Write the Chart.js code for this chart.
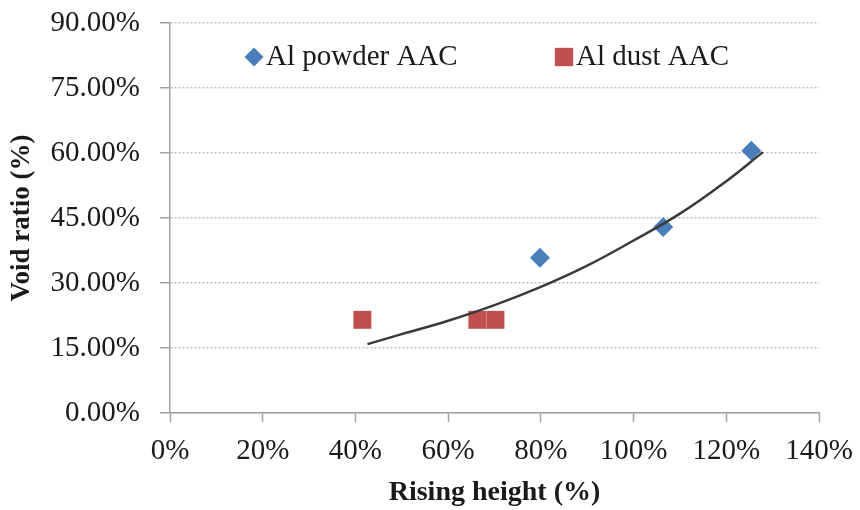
<!DOCTYPE html>
<html>
<head>
<meta charset="utf-8">
<script src="https://cdn.jsdelivr.net/npm/chart.js@4"></script>
<style>
  html, body { margin: 0; padding: 0; background: #fff; }
</style>
</head>
<body>
<canvas id="voidChart" width="860" height="510"></canvas>
<script>
// values (percent)
const powderRise = [79.8, 106.4, 125.4];
const powderVoid = [35.8, 42.9, 60.5];
const dustRise = [41.5, 66.3, 70.2];
const dustVoid = [21.5, 21.5, 21.5];
// trend line as drawn in the figure
const trendRise = [42.6, 50, 60, 70, 80, 90, 100, 110, 120, 127.9];
const trendVoid = [15.9, 18.2, 21.3, 24.9, 29.1, 34.0, 39.8, 46.0, 53.5, 60.2];
const xTicks = [0, 20, 40, 60, 80, 100, 120, 140];
const yTicks = [0, 15, 30, 45, 60, 75, 90];

const serif = 'Liberation Serif';
const pts = (xs, ys) => xs.map((x, i) => ({ x: x, y: ys[i] }));

// legend sits inside the plot, so draw it ourselves
const innerLegend = {
  id: 'innerLegend',
  afterDraw(chart) {
    const c = chart.ctx;
    const items = [
      { ds: chart.data.datasets[0], x: 254, r: 9.5 },
      { ds: chart.data.datasets[1], x: 564, r: 13 }
    ];
    c.save();
    c.font = '29px "' + serif + '"';
    c.textBaseline = 'middle';
    items.forEach(it => {
      c.fillStyle = it.ds.backgroundColor;
      Chart.helpers.drawPoint(c, { pointStyle: it.ds.pointStyle, radius: it.r, rotation: 0, borderWidth: 0 }, it.x, 57);
      c.fillStyle = '#1a1a1a';
      c.fillText(it.ds.label, it.x + 12, 57);
    });
    c.restore();
  }
};

new Chart(document.getElementById('voidChart'), {
  type: 'scatter',
  data: {
    datasets: [
      {
        label: 'Al powder AAC',
        data: pts(powderRise, powderVoid),
        pointStyle: 'rectRot',
        pointRadius: 10,
        backgroundColor: '#4a7ebb',
        borderWidth: 0
      },
      {
        label: 'Al dust AAC',
        data: pts(dustRise, dustVoid),
        pointStyle: 'rect',
        pointRadius: 12.7,
        backgroundColor: '#c0504d',
        borderWidth: 0
      },
      {
        label: 'trend',
        data: pts(trendRise, trendVoid),
        showLine: true,
        pointRadius: 0,
        borderColor: '#3a3a3a',
        borderWidth: 2.5,
        tension: 0.4,
        order: -1
      }
    ]
  },
  options: {
    responsive: false,
    animation: false,
    layout: { padding: { top: 23, right: 41, bottom: 0, left: 0 } },
    plugins: {
      legend: { display: false },
      tooltip: { enabled: false }
    },
    scales: {
      x: {
        type: 'linear',
        min: 0,
        max: 140,
        afterFit: s => { s.height = 97; s.paddingLeft = 0; s.paddingRight = 0; },
        afterBuildTicks: s => { s.ticks = xTicks.map(v => ({ value: v })); },
        ticks: {
          color: '#1a1a1a',
          padding: 12,
          font: { family: serif, size: 29 },
          callback: v => v + '%'
        },
        grid: {
          drawOnChartArea: false,
          tickLength: 9,
          tickColor: '#a0a0a0',
          tickWidth: 1.5
        },
        border: { color: '#a0a0a0', width: 1.5 },
        title: {
          display: true,
          text: 'Rising height (%)',
          color: '#1a1a1a',
          padding: 0,
          font: { family: serif, size: 28, weight: 'bold' }
        }
      },
      y: {
        type: 'linear',
        min: 0,
        max: 90,
        afterFit: s => { s.width = 170; s.paddingTop = 0; s.paddingBottom = 0; },
        afterBuildTicks: s => { s.ticks = yTicks.map(v => ({ value: v })); },
        ticks: {
          color: '#1a1a1a',
          padding: 20,
          font: { family: serif, size: 29 },
          callback: v => v.toFixed(2) + '%'
        },
        grid: {
          color: '#bdbdbd',
          lineWidth: 1.5,
          tickLength: 10,
          tickColor: '#a0a0a0',
          tickWidth: 1.5,
          tickBorderDash: []
        },
        border: { color: '#a0a0a0', width: 1.5, dash: [2, 2] },
        title: {
          display: true,
          text: 'Void ratio (%)',
          color: '#1a1a1a',
          padding: { top: 6, bottom: 0 },
          font: { family: serif, size: 27, weight: 'bold' }
        }
      }
    }
  },
  plugins: [innerLegend]
});
</script>
</body>
</html>
